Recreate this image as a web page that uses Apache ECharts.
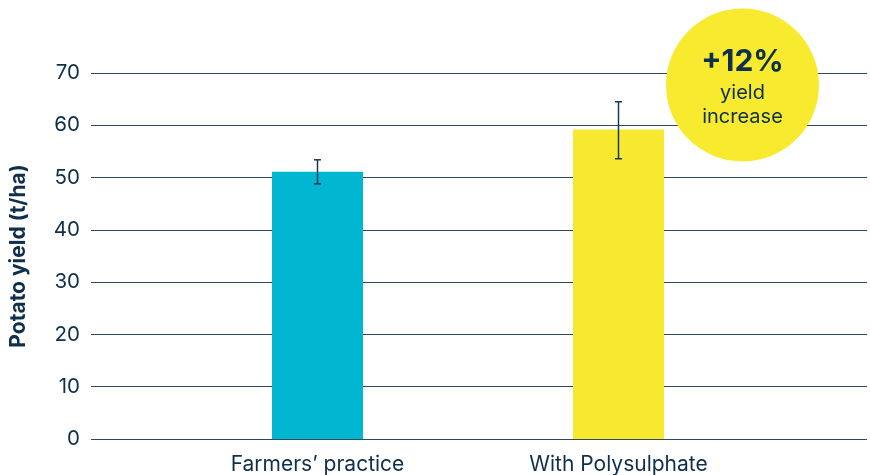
<!DOCTYPE html>
<html>
<head>
<meta charset="utf-8">
<script src="https://cdn.jsdelivr.net/npm/echarts@6/dist/echarts.min.js"></script>
<style>
html,body{margin:0;padding:0;background:#fff;}
#chart{width:870px;height:475px;}
</style>
</head>
<body>
<div id="chart"></div>
<script>
const categories = ['Farmers\u2019 practice', 'With Polysulphate'];
const yieldValues = [51.1, 59.2];
const errorLow = [48.8, 53.6];
const errorHigh = [53.4, 64.5];
const barColors = ['#00b6d1', '#f6e92f'];
const yTicks = [0, 10, 20, 30, 40, 50, 60, 70];
const badgeLines = ['+12%', 'yield', 'increase'];

const navy = '#0f2f4a';
const chart = echarts.init(document.getElementById('chart'));

chart.setOption({
  animation: false,
  textStyle: { fontFamily: 'Inter' },
  grid: [
    { left: 91, right: 3, top: 73, bottom: 36 },
    { left: 167, right: 101, top: 73, bottom: 36 }
  ],
  xAxis: [
    { gridIndex: 0, type: 'category', data: categories, show: false },
    {
      gridIndex: 1, type: 'category', data: categories,
      axisLine: { show: false }, axisTick: { show: false },
      axisLabel: { color: navy, fontSize: 21, fontFamily: 'Inter', margin: 15 }
    }
  ],
  yAxis: [
    {
      gridIndex: 0, type: 'value', min: yTicks[0], max: yTicks[yTicks.length - 1], interval: 10,
      name: 'Potato yield (t/ha)', nameLocation: 'middle', nameGap: 62, nameRotate: 90,
      nameTextStyle: { color: navy, fontSize: 21, fontWeight: 'bold', fontFamily: 'Inter' },
      axisLine: { show: false }, axisTick: { show: false },
      axisLabel: { color: navy, fontSize: 20.5, fontFamily: 'Inter', margin: 11 },
      splitLine: { lineStyle: { color: '#2e4a63', width: 1 } }
    },
    {
      gridIndex: 1, type: 'value', min: yTicks[0], max: yTicks[yTicks.length - 1], interval: 10,
      show: false, splitLine: { show: false }
    }
  ],
  series: [
    {
      type: 'bar', xAxisIndex: 1, yAxisIndex: 1,
      barWidth: 91,
      data: yieldValues.map((v, i) => ({ value: v, itemStyle: { color: barColors[i] } })),
      z: 2
    },
    {
      type: 'custom', xAxisIndex: 1, yAxisIndex: 1, z: 3,
      data: categories.map((c, i) => [i, errorLow[i], errorHigh[i]]),
      renderItem: function (params, api) {
        const lo = api.coord([api.value(0), api.value(1)]);
        const hi = api.coord([api.value(0), api.value(2)]);
        const x = lo[0];
        const hw = 3.5;
        const style = { stroke: '#173a57', lineWidth: 1.5 };
        return {
          type: 'group',
          children: [
            { type: 'line', shape: { x1: x, y1: hi[1], x2: x, y2: lo[1] }, style: style },
            { type: 'line', shape: { x1: x - hw, y1: hi[1], x2: x + hw, y2: hi[1] }, style: style },
            { type: 'line', shape: { x1: x - hw, y1: lo[1], x2: x + hw, y2: lo[1] }, style: style }
          ]
        };
      }
    }
  ],
  graphic: [
    {
      type: 'circle', shape: { cx: 742.5, cy: 85, r: 76.5 },
      style: { fill: '#f7ea2f' }, z: 10
    },
    {
      type: 'text', x: 742.5, y: 62, z: 11,
      style: { text: badgeLines[0], fill: navy, font: 'bold 30px Inter', align: 'center', verticalAlign: 'middle' }
    },
    {
      type: 'text', x: 742.5, y: 93, z: 11,
      style: { text: badgeLines[1], fill: navy, font: '20px Inter', align: 'center', verticalAlign: 'middle' }
    },
    {
      type: 'text', x: 742.5, y: 117, z: 11,
      style: { text: badgeLines[2], fill: navy, font: '20px Inter', align: 'center', verticalAlign: 'middle' }
    }
  ]
});
</script>
</body>
</html>
